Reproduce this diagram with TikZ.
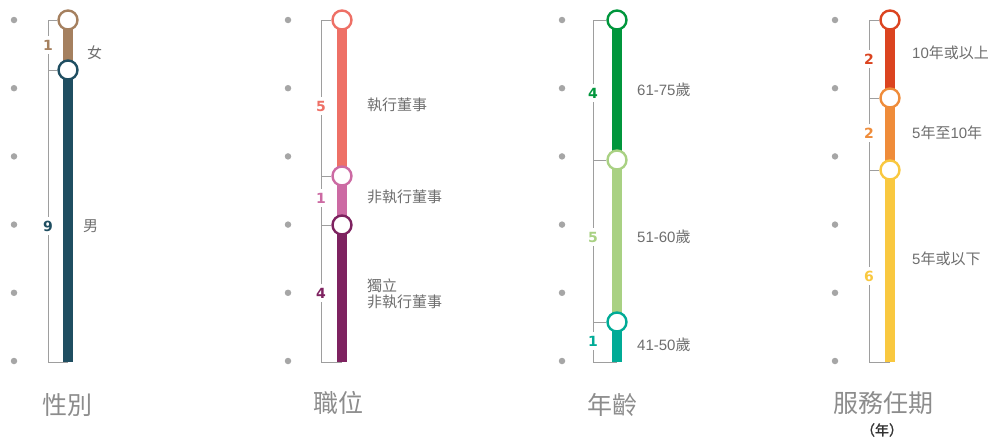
\documentclass[tikz,border=0pt]{standalone}
\usepackage{fontspec}
\setmainfont{Liberation Sans}
\newfontfamily\cjk{Noto Sans CJK TC}
\newfontfamily\cjkbold[FakeBold=1.5]{Noto Sans CJK TC}
\newfontfamily\heavy{DejaVu Sans}[BoldFont={DejaVu Sans Bold}]
\usetikzlibrary{backgrounds}

\definecolor{female}{HTML}{A5805F}
\definecolor{male}{HTML}{1F4E61}
\definecolor{execdir}{HTML}{EE7066}
\definecolor{nonexec}{HTML}{CC6AA3}
\definecolor{indep}{HTML}{7E2260}
\definecolor{ageA}{HTML}{00963C}
\definecolor{ageB}{HTML}{A9D183}
\definecolor{ageC}{HTML}{00AB96}
\definecolor{termA}{HTML}{DB4420}
\definecolor{termB}{HTML}{EF8C3A}
\definecolor{termC}{HTML}{F9C83F}
\definecolor{dotgray}{HTML}{A6A6A6}
\definecolor{bracegray}{HTML}{9E9E9E}
\definecolor{textgray}{HTML}{6E6E6E}
\definecolor{titlegray}{HTML}{8C8C8C}

\newcommand{\zh}[1]{{\cjk #1}}

\tikzset{
  ring/.style={circle,draw,fill=white,line width=2.4pt,minimum size=19pt,inner sep=0pt},
  bar/.style={line width=9.5pt},
  brace/.style={draw=bracegray,line width=1pt},
  count/.style={font=\heavy\bfseries\fontsize{14}{14}\selectfont,fill=white,inner xsep=1pt,inner ysep=4pt},
  catname/.style={anchor=west,text=textgray,font=\fontsize{15}{18}\selectfont,align=left,inner sep=0pt},
  heading/.style={text=titlegray,font=\cjk\fontsize{25}{27}\selectfont,inner sep=0pt},
  dot/.style={circle,fill=dotgray,inner sep=0pt,minimum size=6.5pt}
}

\begin{document}
\begin{tikzpicture}[x=1pt,y=-1pt]
  \useasboundingbox (0,0) rectangle (997,439);

  % grey scale dots
  \foreach \x in {14,288,562,835}{%
    \foreach \i in {0,...,5}{%
      \node[dot] (d\x-\i) at (\x,20+68.2*\i) {};
    }
  }

  % gender
  \coordinate (gB1) at (48,20);
  \coordinate (gB2) at (48,70);
  \coordinate (gB3) at (48,362);
  \coordinate (gEnd) at (68,362);
  \node[ring,draw=female] (gF) at (68,20) {};
  \node[ring,draw=male] (gM) at (68,70) {};
  \begin{pgfonlayer}{background}
    \draw[brace] (gF.west) -- (gB1) -- (gB3) -- (gEnd);
    \draw[brace] (gB2) -- (gM.west);
    \draw[bar,female] (gF.center) -- (gM.center);
    \draw[bar,male] (gM.center) -- (gEnd);
  \end{pgfonlayer}
  \node[count,text=female] (gn1) at (48,45) {1};
  \node[count,text=male] (gn2) at (48,226) {9};
  \node[catname] (gl1) at (87,53) {\zh{女}};
  \node[catname] (gl2) at (83,226) {\zh{男}};
  \node[heading] (gt) at (67,405) {性別};

  % position
  \coordinate (pB1) at (321,20);
  \coordinate (pB2) at (321,176);
  \coordinate (pB3) at (321,225);
  \coordinate (pB4) at (321,362);
  \coordinate (pEnd) at (342,362);
  \node[ring,draw=execdir] (pE) at (342,20) {};
  \node[ring,draw=nonexec] (pN) at (342,176) {};
  \node[ring,draw=indep] (pI) at (342,225) {};
  \begin{pgfonlayer}{background}
    \draw[brace] (pE.west) -- (pB1) -- (pB4) -- (pEnd);
    \draw[brace] (pB2) -- (pN.west);
    \draw[brace] (pB3) -- (pI.west);
    \draw[bar,execdir] (pE.center) -- (pN.center);
    \draw[bar,nonexec] (pN.center) -- (pI.center);
    \draw[bar,indep] (pI.center) -- (pEnd);
  \end{pgfonlayer}
  \node[count,text=execdir] (pn1) at (321,106) {5};
  \node[count,text=nonexec] (pn2) at (321,198) {1};
  \node[count,text=indep] (pn3) at (321,293) {4};
  \node[catname] (pl1) at (367,105) {\zh{執行董事}};
  \node[catname] (pl2) at (367,197) {\zh{非執行董事}};
  \node[catname] (pl3) at (367,294) {\zh{獨立}\\[-2pt]\zh{非執行董事}};
  \node[heading] (pt) at (338,403) {職位};

  % age
  \coordinate (aB1) at (593,20);
  \coordinate (aB2) at (593,160);
  \coordinate (aB3) at (593,322);
  \coordinate (aB4) at (593,362);
  \coordinate (aEnd) at (617,362);
  \node[ring,draw=ageA] (aA) at (617,20) {};
  \node[ring,draw=ageB] (aB) at (617,160) {};
  \node[ring,draw=ageC] (aC) at (617,322) {};
  \begin{pgfonlayer}{background}
    \draw[brace] (aA.west) -- (aB1) -- (aB4) -- (aEnd);
    \draw[brace] (aB2) -- (aB.west);
    \draw[brace] (aB3) -- (aC.west);
    \draw[bar,ageA] (aA.center) -- (aB.center);
    \draw[bar,ageB] (aB.center) -- (aC.center);
    \draw[bar,ageC] (aC.center) -- (aEnd);
  \end{pgfonlayer}
  \node[count,text=ageA] (an1) at (593,93) {4};
  \node[count,text=ageB] (an2) at (593,237) {5};
  \node[count,text=ageC] (an3) at (593,341) {1};
  \node[catname] (al1) at (637,90) {61-75\zh{歲}};
  \node[catname] (al2) at (637,237) {51-60\zh{歲}};
  \node[catname] (al3) at (637,345) {41-50\zh{歲}};
  \node[heading] (at) at (612,405) {年齡};

  % term of service
  \coordinate (tB1) at (869,20);
  \coordinate (tB2) at (869,98);
  \coordinate (tB3) at (869,170);
  \coordinate (tB4) at (869,362);
  \coordinate (tEnd) at (890,362);
  \node[ring,draw=termA] (tA) at (890,20) {};
  \node[ring,draw=termB] (tB) at (890,98) {};
  \node[ring,draw=termC] (tC) at (890,170) {};
  \begin{pgfonlayer}{background}
    \draw[brace] (tA.west) -- (tB1) -- (tB4) -- (tEnd);
    \draw[brace] (tB2) -- (tB.west);
    \draw[brace] (tB3) -- (tC.west);
    \draw[bar,termA] (tA.center) -- (tB.center);
    \draw[bar,termB] (tB.center) -- (tC.center);
    \draw[bar,termC] (tC.center) -- (tEnd);
  \end{pgfonlayer}
  \node[count,text=termA] (tn1) at (869,59) {2};
  \node[count,text=termB] (tn2) at (869,133) {2};
  \node[count,text=termC] (tn3) at (869,276) {6};
  \node[catname] (tl1) at (912,53) {10\zh{年或以上}};
  \node[catname] (tl2) at (912,133) {5\zh{年至}10\zh{年}};
  \node[catname] (tl3) at (912,259) {5\zh{年或以下}};
  \node[heading] (tt) at (883,403) {服務任期};
  \node[text=black!80,font=\cjkbold\fontsize{14}{14}\selectfont,inner sep=0pt] (tu) at (882,430) {（年）};
\end{tikzpicture}
\end{document}
